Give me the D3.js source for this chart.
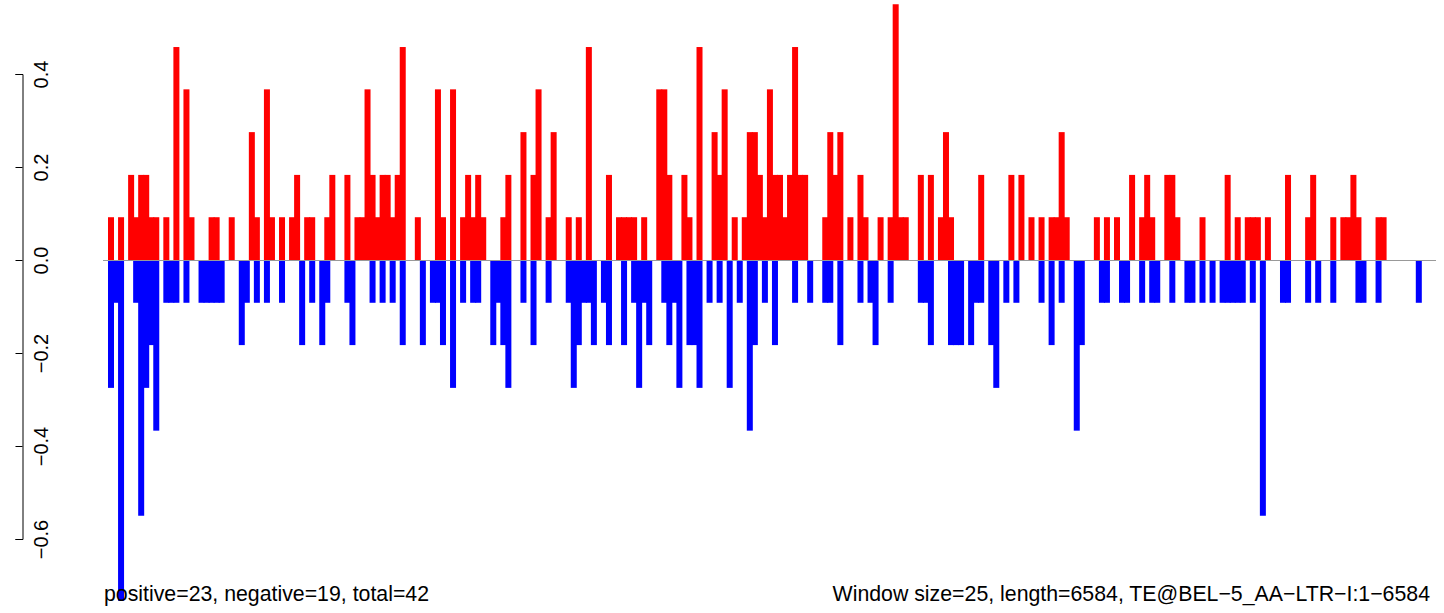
<!DOCTYPE html>
<html><head><meta charset="utf-8">
<script src="https://cdn.jsdelivr.net/npm/d3@7/dist/d3.min.js"></script>
<style>body{margin:0;background:#fff}svg{display:block}</style>
</head><body>
<svg id="c" width="1444" height="613"></svg>
<script>
// window values (one entry per window of 25 bp)
const positive = [
0.092,0,0.092,0,0.183,0.092,0.183,0.183,0.092,0.092,
0,0.092,0,0.458,0,0.367,0.092,0,0,0,
0.092,0.092,0,0,0.092,0,0,0,0.275,0.092,
0,0.367,0.092,0,0.092,0,0.092,0.183,0,0.092,
0.092,0,0,0.092,0.183,0,0,0.183,0,0.092,
0.092,0.367,0.183,0.092,0.183,0.183,0.092,0.183,0.458,0,
0,0.092,0,0,0,0.367,0.092,0,0.367,0,
0.092,0.183,0.092,0.183,0.092,0,0,0,0.092,0.183,
0,0,0.275,0,0.183,0.367,0,0.092,0.275,0,
0,0.092,0,0.092,0,0.458,0,0,0,0.183,
0,0.092,0.092,0.092,0.092,0,0.092,0,0,0.367,
0.367,0.183,0,0,0.183,0.092,0,0.458,0,0,
0.275,0.183,0.367,0,0.092,0,0.092,0.275,0.275,0.183,
0.092,0.367,0.183,0.183,0.092,0.183,0.458,0.183,0.183,0,
0,0,0.092,0.275,0.183,0.275,0,0.092,0,0.183,
0.092,0,0,0.092,0,0.092,0.550,0.092,0.092,0,
0,0.183,0,0.183,0,0.092,0.275,0.092,0,0,
0,0,0,0.183,0,0,0,0,0,0.183,
0,0.183,0,0.092,0,0.092,0,0.092,0.092,0.275,
0.092,0,0,0,0,0,0.092,0,0.092,0,
0.092,0,0,0.183,0,0.092,0.183,0.092,0,0,
0.183,0.183,0.092,0,0,0,0,0.092,0,0,
0,0,0.183,0,0.092,0,0.092,0.092,0.092,0,
0.092,0,0,0,0.183,0,0,0,0.092,0.183,
0,0,0,0.092,0,0.092,0.092,0.183,0.092,0,
0,0,0.092,0.092,0,0,0,0,0,0,0
];
const negative = [
-0.275,-0.092,-0.733,0,0,-0.092,-0.550,-0.275,-0.183,-0.367,
0,-0.092,-0.092,-0.092,0,-0.092,0,0,-0.092,-0.092,
-0.092,-0.092,-0.092,0,0,0,-0.183,-0.092,0,-0.092,
0,-0.092,0,0,-0.092,0,0,0,-0.183,0,
-0.092,0,-0.183,-0.092,0,0,0,-0.092,-0.183,0,
0,0,-0.092,0,-0.092,0,-0.092,0,-0.183,0,
0,0,-0.183,0,-0.092,-0.092,-0.183,0,-0.275,0,
-0.092,0,-0.092,-0.092,0,0,-0.183,-0.092,-0.183,-0.275,
0,0,-0.092,0,-0.183,0,0,-0.092,0,0,
0,-0.092,-0.275,-0.183,-0.092,-0.092,-0.183,0,-0.092,-0.183,
0,0,-0.183,0,-0.092,-0.275,-0.092,-0.183,0,0,
-0.092,-0.183,-0.092,-0.275,0,-0.183,-0.183,-0.275,0,-0.092,
0,-0.092,0,-0.275,0,-0.092,0,-0.367,-0.183,0,
-0.092,0,-0.183,0,0,0,-0.092,0,0,-0.092,
0,0,-0.092,-0.092,0,-0.183,0,0,0,-0.092,
0,-0.092,-0.183,0,0,-0.092,0,0,0,0,
0,-0.092,-0.092,-0.183,0,0,0,-0.183,-0.183,-0.183,
0,-0.183,-0.092,-0.092,0,-0.183,-0.275,0,-0.092,0,
-0.092,0,0,0,0,-0.092,0,-0.183,0,-0.092,
0,0,-0.367,-0.183,0,0,0,-0.092,-0.092,0,
0,-0.092,-0.092,0,0,-0.092,0,-0.092,-0.092,0,
0,-0.092,0,0,-0.092,-0.092,0,-0.092,0,-0.092,
0,-0.092,-0.092,-0.092,-0.092,-0.092,0,-0.092,0,-0.550,
0,0,0,-0.092,-0.092,0,0,0,-0.092,0,
-0.092,0,0,-0.092,0,0,0,0,-0.092,-0.092,
0,0,-0.092,0,0,0,0,0,0,0,-0.092
];
const yTicks = [-0.6, -0.4, -0.2, 0.0, 0.2, 0.4];
const leftNote = "positive=23, negative=19, total=42";
const rightNote = "Window size=25, length=6584, TE@BEL\u22125_AA\u2212LTR\u2212I:1\u22126584";

const svg = d3.select("#c");
const n = positive.length;
const idx = d3.range(n);
const x = d3.scaleLinear().domain([0, n - 1]).range([108, 108 + 5.03 * (n - 1)]);
const y = d3.scaleLinear().domain([-0.6, 0.4]).range([539, 74]);
const barW = 6;
const font = "Liberation Sans, Arial, Helvetica, sans-serif";

svg.append("g").selectAll("rect").data(idx.filter(i => positive[i] > 0)).join("rect")
  .attr("x", i => x(i)).attr("width", barW)
  .attr("y", i => y(positive[i])).attr("height", i => y(0) - y(positive[i]))
  .attr("fill", "#ff0000");

svg.append("g").selectAll("rect").data(idx.filter(i => negative[i] < 0)).join("rect")
  .attr("x", i => x(i)).attr("width", barW)
  .attr("y", y(0)).attr("height", i => y(negative[i]) - y(0))
  .attr("fill", "#0000ff");

svg.append("line").attr("x1", 103).attr("x2", 1436)
  .attr("y1", y(0) + 0.5).attr("y2", y(0) + 0.5)
  .attr("stroke", "#999").attr("stroke-width", 1);

const fmt = v => (v < 0 ? "\u2212" : "") + Math.abs(v).toFixed(1);
const ax = svg.append("g").attr("transform", "translate(22.5,0)")
  .call(d3.axisLeft(y).tickValues(yTicks).tickFormat(fmt).tickSizeOuter(0).tickSize(7));
ax.select(".domain").attr("stroke", "#000");
ax.selectAll(".tick line").attr("stroke", "#000");
ax.selectAll(".tick text")
  .attr("transform", "rotate(-90)")
  .attr("x", 0).attr("y", 25).attr("dy", 0)
  .attr("text-anchor", "middle")
  .attr("font-family", font)
  .attr("font-size", 20).attr("fill", "#000");

svg.append("text").attr("x", 104).attr("y", 601)
  .attr("font-family", font).attr("font-size", 21.3)
  .attr("fill", "#000").text(leftNote);
svg.append("text").attr("x", 1430).attr("y", 601).attr("text-anchor", "end")
  .attr("font-family", font).attr("font-size", 21.3)
  .attr("fill", "#000").text(rightNote);
</script>
</body></html>
